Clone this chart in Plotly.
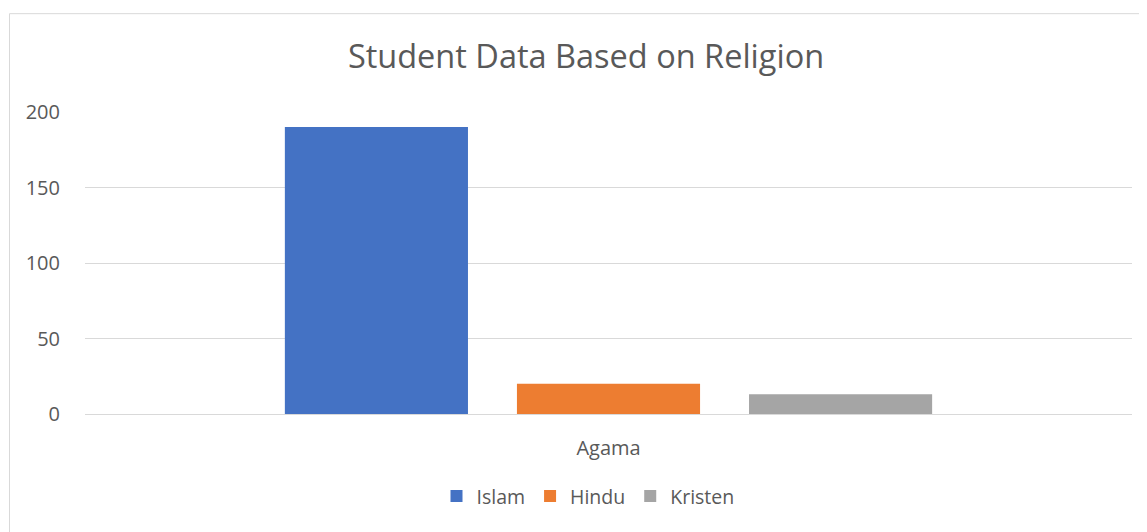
import plotly.graph_objects as go

categories = ["Agama"]
series_names = ["Islam", "Hindu", "Kristen"]
islam = [190]
hindu = [20]
kristen = [13]
colors = ["#4472C4", "#ED7D31", "#A5A5A5"]
y_ticks = [0, 50, 100, 150, 200]

FONT = "Open Sans"
TXT = "#595959"

fig = go.Figure()
for name, vals, c in zip(series_names, [islam, hindu, kristen], colors):
    fig.add_trace(go.Bar(x=categories, y=vals, name=name, marker=dict(color=c, line=dict(width=0))))

OFF = 8  # page body margin
W, H = 1147 - OFF, 532 - OFF
L, R, T, B = 85 - OFF, 1132 - OFF, 112 - OFF, 414.5 - OFF
pw, ph = R - L, B - T

def px(x):
    return (x - OFF - L) / pw

def py(y):
    return (B - (y - OFF)) / ph

fig.update_layout(
    width=W, height=H,
    margin=dict(l=L, r=W - R, t=T, b=H - B),
    paper_bgcolor="white", plot_bgcolor="white",
    barmode="group", bargap=0.335, bargroupgap=0.211,
    font=dict(family=FONT, color=TXT),
    title=dict(text="Student Data Based on Religion", x=(586 - OFF) / W, xanchor="center",
               y=1 - (57 - OFF) / H, yanchor="middle", font=dict(size=32.5, color=TXT, family=FONT)),
    xaxis=dict(showgrid=False, showline=False, zeroline=False, ticks="outside", ticklen=16,
               tickcolor="rgba(0,0,0,0)", tickfont=dict(size=20, color=TXT)),
    yaxis=dict(range=[0, 200], tickvals=y_ticks, showgrid=True, gridcolor="#D9D9D9", gridwidth=1,
               zeroline=True, zerolinecolor="#D9D9D9", zerolinewidth=1, showline=False,
               ticks="outside", ticklen=20, tickcolor="rgba(0,0,0,0)", tickfont=dict(size=20, color=TXT)),
    legend=dict(orientation="h", x=px(588), xanchor="center", y=py(497), yanchor="middle",
                font=dict(size=19.5, color=TXT), itemwidth=30, traceorder="normal"),
    shapes=[dict(type="rect", xref="paper", yref="paper", x0=px(9.5), x1=px(1160), y0=py(545), y1=py(13.5),
                 line=dict(color="#D9D9D9", width=1), fillcolor="rgba(0,0,0,0)", layer="below")],
)

fig.write_html("out.html")
